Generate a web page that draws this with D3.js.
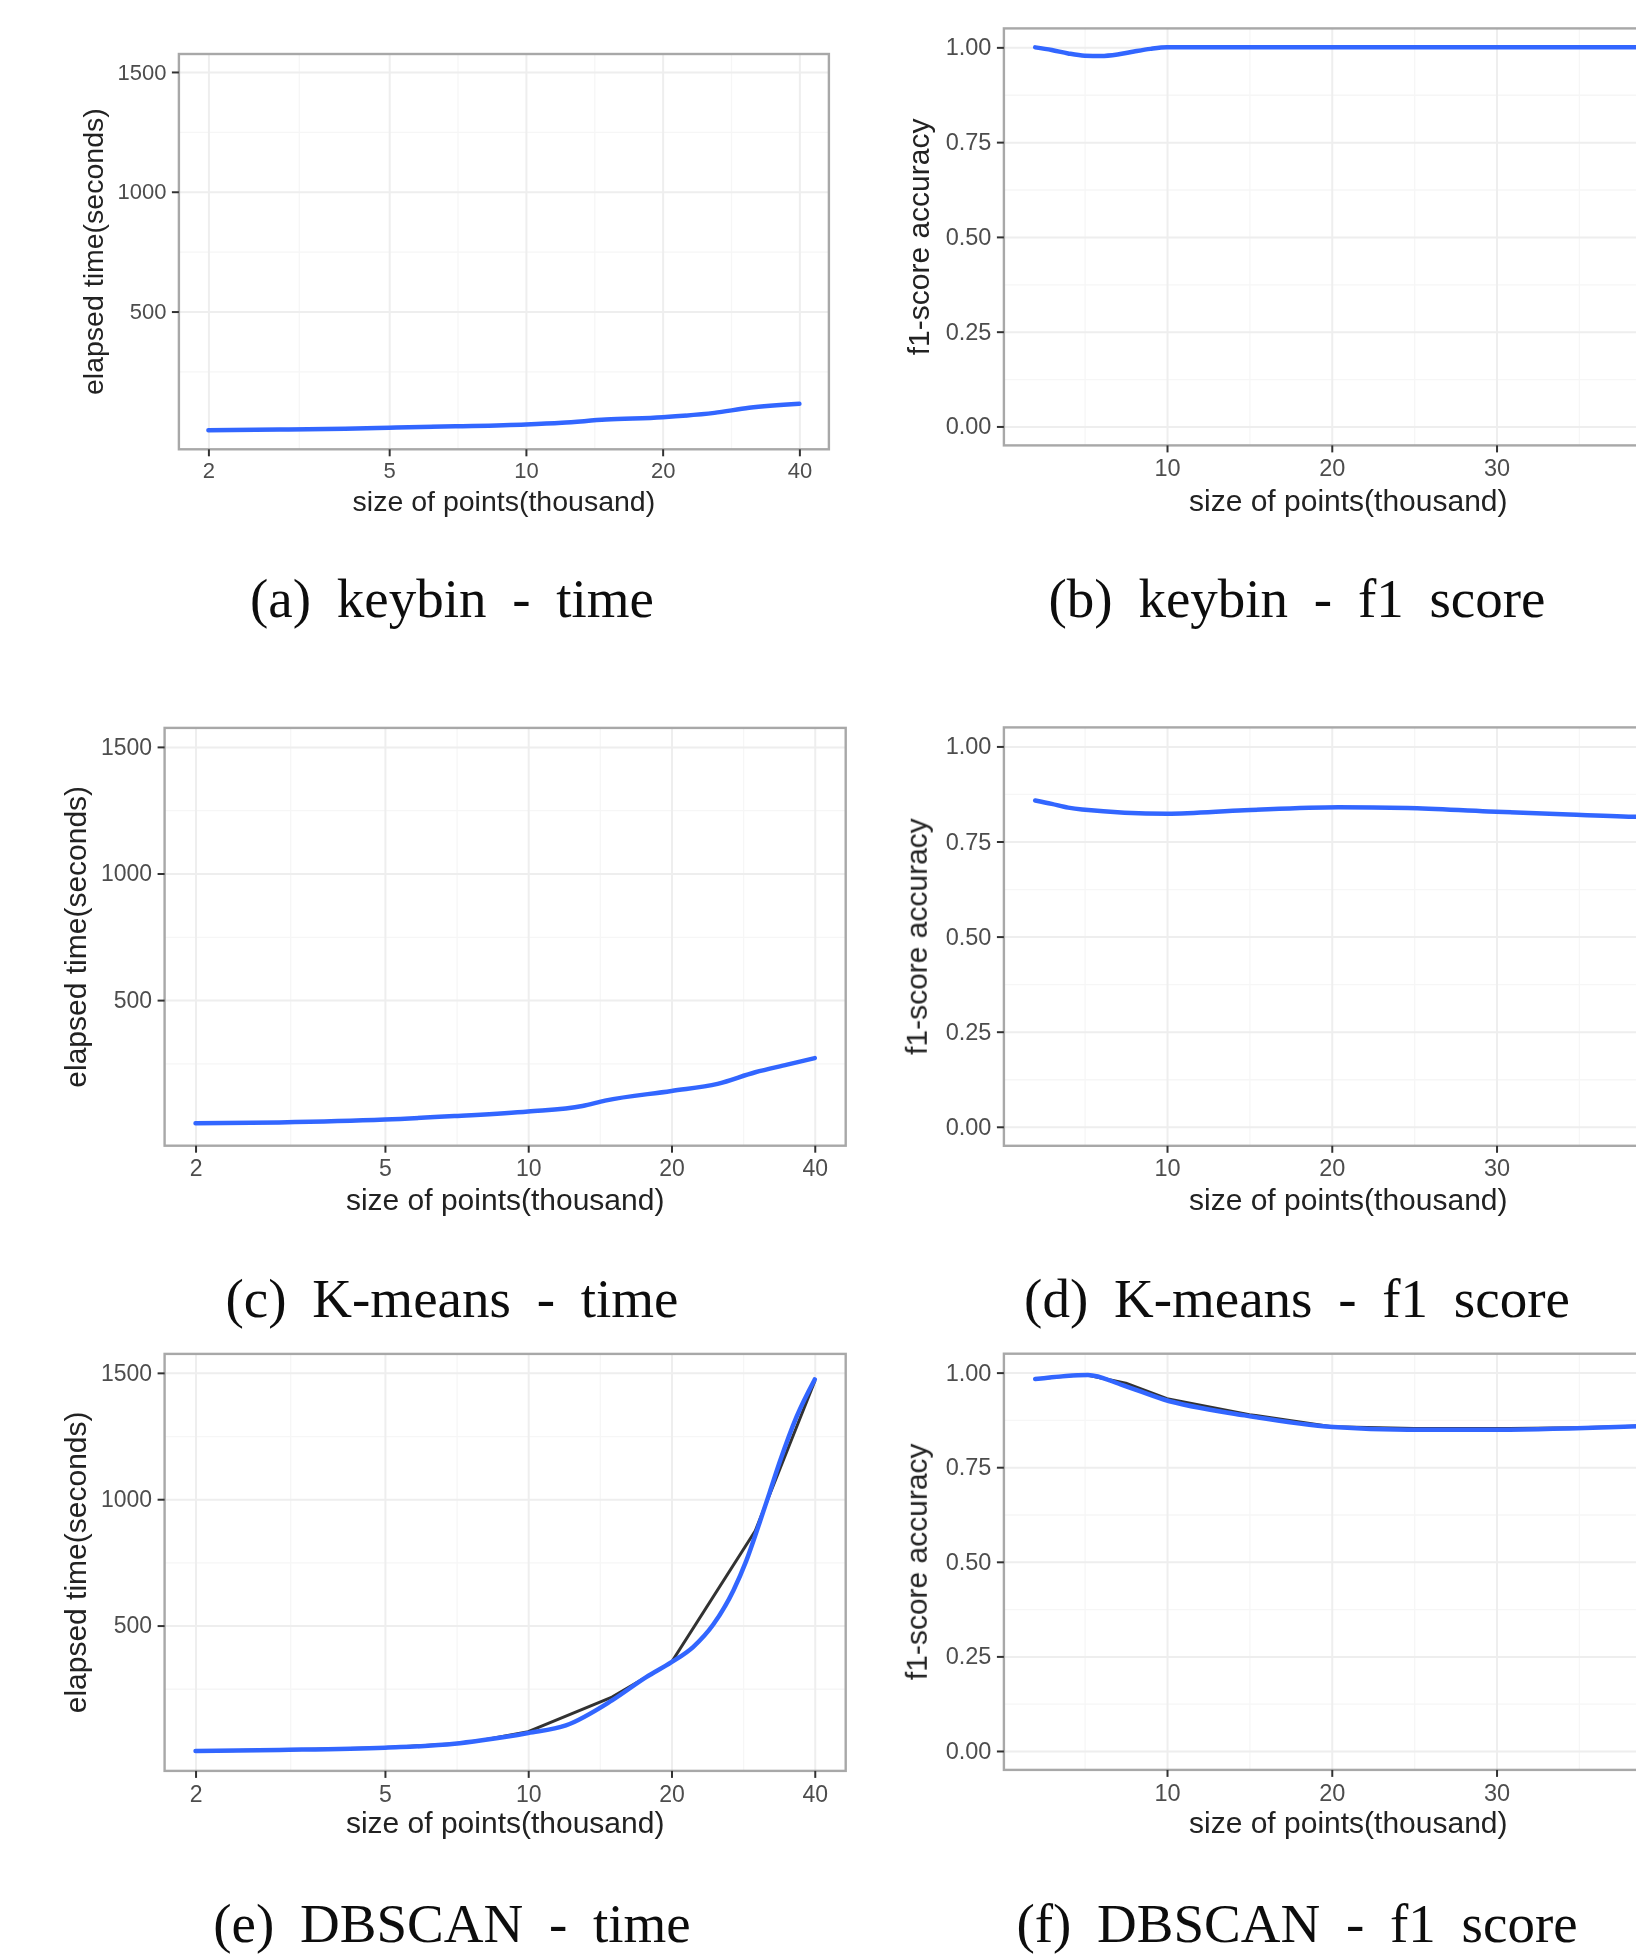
<!DOCTYPE html>
<html>
<head>
<meta charset="utf-8">
<script src="https://cdn.jsdelivr.net/npm/d3@7"></script>
<style>
  body { margin: 0; background: #fff; }
  svg { display: block; }
</style>
</head>
<body>
<svg id="chart" width="1636" height="1954"></svg>
<script>
// tick values
const timeXTicks = [2, 5, 10, 20, 40];
const timeYTicks = [500, 1000, 1500];
const f1XTicks = [10, 20, 30];          // 40 falls past the right edge of the picture
const f1XGrid = [0, 10, 20, 30, 40];    // used only to place minor grid lines
const f1YTicks = [0, 0.25, 0.5, 0.75, 1];

// (a) keybin - elapsed time (smoothed)
const keybinTimeX = [2, 3, 4, 5, 7, 10, 12, 15, 20, 26, 31, 40];
const keybinTimeY = [5, 8, 11, 15, 21, 29, 36, 49, 59, 77, 98, 115];

// (b) keybin - f1 score
const keybinF1X = [2, 3, 4, 5, 6, 7, 8, 9, 10, 15, 20, 30, 40];
const keybinF1Y = [1.0, 0.993, 0.984, 0.978, 0.977, 0.981, 0.989, 0.996, 1.0, 1.0, 1.0, 1.0, 1.0];

// (c) K-means - elapsed time
const kmeansTimeX = [2, 3, 5, 7, 10, 13, 14.5, 20, 25, 30, 35, 40];
const kmeansTimeY = [14, 17, 28, 42, 60, 82, 103, 141, 169, 215, 245, 271];

// (d) K-means - f1 score
const kmeansF1X = [2, 3, 4, 4.85, 10, 14.7, 20.4, 24.6, 29.5, 34.4, 38.6, 40];
const kmeansF1Y = [0.858, 0.849, 0.839, 0.834, 0.823, 0.832, 0.840, 0.838, 0.829, 0.821, 0.815, 0.814];

// (e) DBSCAN - elapsed time: measured (black) and smoothed (blue)
const dbscanTimeRawX = [2, 3, 5, 7, 8, 10, 15, 20, 30, 40];
const dbscanTimeRawY = [4, 8, 17, 32, 46, 80, 217, 355, 875, 1467];
const dbscanTimeX = [2, 3, 5, 7, 8, 10, 12, 15, 17.7, 20, 22.2, 24.5, 27, 28.7, 30.6, 32.2, 33.8, 36.6, 40];
const dbscanTimeY = [4, 8, 17, 32, 46, 75, 105, 204, 296, 355, 415, 505, 640, 755, 905, 1030, 1150, 1325, 1474];

// (f) DBSCAN - f1 score: measured (black) and smoothed (blue)
const dbscanF1RawX = [2, 5, 7.5, 10, 15, 20, 25, 30, 35, 40];
const dbscanF1RawY = [0.983, 0.995, 0.972, 0.931, 0.889, 0.857, 0.852, 0.852, 0.854, 0.86];
const dbscanF1X = [2, 5.2, 7.3, 9.8, 14.7, 20.1, 24.6, 29.5, 34.4, 38.6, 40];
const dbscanF1Y = [0.983, 0.994, 0.967, 0.929, 0.887, 0.856, 0.849, 0.849, 0.852, 0.858, 0.86];

const zip = (xs, ys) => xs.map((x, i) => [x, ys[i]]);

const panels = [
  { kind: "time", x0: 178.9, x1: 828.9, y0: 54, y1: 449.3, tick: 22, title: 28.5, yTitleX: 95.7, xTickC: 470, xTitleC: 503.3,
    caption: "(a) keybin - time", capX: 452, capY: 617,
    series: [{ pts: zip(keybinTimeX, keybinTimeY), smooth: true }] },
  { kind: "f1", x0: 1003.9, x1: 1692.6, y0: 28.4, y1: 445.4, tick: 23.5, title: 30, yTitleX: 921, xTickC: 468, xTitleC: 503,
    caption: "(b) keybin - f1 score", capX: 1297, capY: 617,
    series: [{ pts: zip(keybinF1X, keybinF1Y), smooth: true }] },
  { kind: "time", x0: 164.6, x1: 845.7, y0: 727.9, y1: 1145.7, tick: 23, title: 30, yTitleX: 77.9, xTickC: 1167.9, xTitleC: 1201.8,
    caption: "(c) K-means - time", capX: 452, capY: 1317,
    series: [{ pts: zip(kmeansTimeX, kmeansTimeY), smooth: true }] },
  { kind: "f1", x0: 1003.9, x1: 1692.6, y0: 727.4, y1: 1145.8, tick: 23.5, title: 30, yTitleX: 919, xTickC: 1167.9, xTitleC: 1201.8,
    caption: "(d) K-means - f1 score", capX: 1297, capY: 1317,
    series: [{ pts: zip(kmeansF1X, kmeansF1Y), smooth: true }] },
  { kind: "time", x0: 164.6, x1: 845.7, y0: 1353.9, y1: 1770.9, tick: 23, title: 30, yTitleX: 77.9, xTickC: 1793.6, xTitleC: 1825.4,
    caption: "(e) DBSCAN - time", capX: 452, capY: 1942,
    series: [{ pts: zip(dbscanTimeRawX, dbscanTimeRawY), smooth: false },
             { pts: zip(dbscanTimeX, dbscanTimeY), smooth: true }] },
  { kind: "f1", x0: 1003.9, x1: 1692.6, y0: 1353.7, y1: 1769.9, tick: 23.5, title: 30, yTitleX: 919, xTickC: 1792.4, xTitleC: 1825.4,
    caption: "(f) DBSCAN - f1 score", capX: 1297, capY: 1942,
    series: [{ pts: zip(dbscanF1RawX, dbscanF1RawY), smooth: false },
             { pts: zip(dbscanF1X, dbscanF1Y), smooth: true }] }
];

const svg = d3.select("#chart");
const defs = svg.append("defs");
defs.append("filter").attr("id", "soft")
  .append("feGaussianBlur").attr("stdDeviation", 0.7);
defs.append("filter").attr("id", "softer")
  .append("feGaussianBlur").attr("stdDeviation", 0.45);

svg.append("rect").attr("width", 1636).attr("height", 1954).attr("fill", "#fff");

const sans = "'Liberation Sans', Arial, Helvetica, sans-serif";
const mid = (a, b) => (a + b) / 2;

function drawPanel(p) {
  const g = svg.append("g").attr("filter", "url(#soft)");
  const isTime = p.kind === "time";
  const ex = 10 ** 0.065;
  const x = isTime
    ? d3.scaleLog().domain([2 / ex, 40 * ex]).range([p.x0, p.x1])
    : d3.scaleLinear().domain([0.1, 41.9]).range([p.x0, p.x1]);
  const y = isTime
    ? d3.scaleLinear().domain([-75, 1575]).range([p.y1, p.y0])
    : d3.scaleLinear().domain([-0.05, 1.05]).range([p.y1, p.y0]);
  const xTicks = isTime ? timeXTicks : f1XTicks;
  const yTicks = isTime ? timeYTicks : f1YTicks;
  const xMajorGrid = isTime ? timeXTicks : f1XGrid.slice(1);
  const xMinor = isTime ? d3.pairs(xTicks, (a, b) => Math.sqrt(a * b)) : d3.pairs(f1XGrid, mid);
  const yMinor = isTime ? d3.pairs([0, ...yTicks], mid) : d3.pairs(yTicks, mid);
  const w = p.x1 - p.x0, h = p.y1 - p.y0;

  g.append("rect").attr("x", p.x0).attr("y", p.y0).attr("width", w).attr("height", h).attr("fill", "#fff");

  // grid lines, minor first
  const grid = (vals, vertical, color, sw) => {
    const ax = vertical
      ? d3.axisBottom(x).tickValues(vals).tickSize(-h).tickFormat("")
      : d3.axisLeft(y).tickValues(vals).tickSize(-w).tickFormat("");
    g.append("g")
      .attr("transform", vertical ? `translate(0,${p.y1})` : `translate(${p.x0},0)`)
      .call(ax)
      .call(s => s.select(".domain").remove())
      .call(s => s.selectAll("line").attr("stroke", color).attr("stroke-width", sw));
  };
  grid(xMinor, true, "#f6f6f6", 1.3);
  grid(yMinor, false, "#f6f6f6", 1.3);
  grid(xMajorGrid, true, "#eeeeee", 2);
  grid(yTicks, false, "#eeeeee", 2);

  const line = d3.line().x(d => x(d[0])).y(d => y(d[1]));
  p.series.forEach(s => {
    g.append("path")
      .attr("d", line.curve(s.smooth ? d3.curveMonotoneX : d3.curveLinear)(s.pts))
      .attr("fill", "none")
      .attr("stroke", s.smooth ? "#3366FF" : "#333333")
      .attr("stroke-width", s.smooth ? 4.5 : 3)
      .attr("stroke-linecap", "round")
      .attr("stroke-linejoin", "round");
  });

  g.append("rect").attr("x", p.x0).attr("y", p.y0).attr("width", w).attr("height", h)
    .attr("fill", "none").attr("stroke", "#a8a8a8").attr("stroke-width", 2.4);

  const styleAxis = s => {
    s.select(".domain").remove();
    s.selectAll("line").attr("stroke", "#333").attr("stroke-width", 2);
    s.selectAll("text").attr("fill", "#4d4d4d").style("font", `${p.tick}px ${sans}`);
  };

  g.append("g").attr("transform", `translate(${p.x0},0)`)
    .call(d3.axisLeft(y).tickValues(yTicks).tickSize(7).tickPadding(5.5)
      .tickFormat(isTime ? d3.format("d") : d3.format(".2f")))
    .call(styleAxis);

  const xPad = p.xTickC - p.y1 - 7 - 0.36 * p.tick;
  g.append("g").attr("transform", `translate(0,${p.y1})`)
    .call(d3.axisBottom(x).tickValues(xTicks).tickSize(7).tickPadding(xPad).tickFormat(d3.format("d")))
    .call(styleAxis);

  g.append("text")
    .attr("x", (p.x0 + p.x1) / 2).attr("y", p.xTitleC + 0.26 * p.title)
    .attr("text-anchor", "middle").attr("fill", "#222")
    .style("font", `${p.title}px ${sans}`)
    .text("size of points(thousand)");

  g.append("text")
    .attr("transform", `translate(${p.yTitleX + 0.26 * p.title},${(p.y0 + p.y1) / 2}) rotate(-90)`)
    .attr("text-anchor", "middle").attr("fill", "#222")
    .style("font", `${p.title}px ${sans}`)
    .text(isTime ? "elapsed time(seconds)" : "f1-score accuracy");

  svg.append("text")
    .attr("x", p.capX).attr("y", p.capY)
    .attr("text-anchor", "middle").attr("fill", "#111")
    .attr("filter", "url(#softer)")
    .style("font", `55px 'Liberation Serif', 'Times New Roman', serif`)
    .style("word-spacing", "12px")
    .text(p.caption);
}

panels.forEach(drawPanel);
</script>
</body>
</html>
